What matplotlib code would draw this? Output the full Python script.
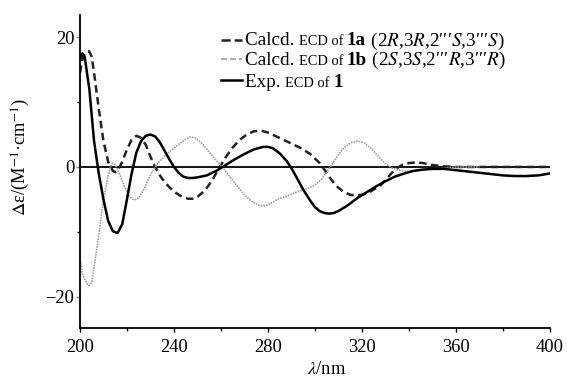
import matplotlib
matplotlib.use("Agg")
import matplotlib.pyplot as plt
from matplotlib.lines import Line2D
from matplotlib.offsetbox import AnchoredOffsetbox, DrawingArea, HPacker, TextArea
from matplotlib.ticker import MultipleLocator

plt.rcParams["font.family"] = ["Liberation Serif", "DejaVu Serif"]
plt.rcParams["mathtext.fontset"] = "stix"

# experimental ECD of 1
exp_nm = [200, 201, 202, 204, 206, 208, 210, 212, 214, 216, 218, 220, 222, 224,
          226, 228, 230, 232, 234, 236, 238, 240, 242, 244, 246, 248, 250, 254,
          258, 262, 266, 270, 274, 278, 280, 282, 285, 288, 290, 292, 295, 298,
          300, 302, 304, 306, 308, 310, 314, 318, 322, 326, 330, 334, 338, 342,
          346, 350, 355, 360, 365, 370, 375, 380, 385, 390, 395, 400]
exp_de = [16.5, 17.5, 17.0, 12.0, 4.0, -1.0, -5.0, -8.3, -9.9, -10.2, -8.8, -5.0,
          -1.0, 2.2, 4.0, 4.8, 5.0, 4.7, 3.8, 2.5, 1.2, 0.0, -0.9, -1.5, -1.7,
          -1.7, -1.6, -1.3, -0.6, 0.3, 1.2, 2.0, 2.7, 3.1, 3.1, 2.9, 2.1, 0.9,
          -0.2, -1.5, -3.5, -5.2, -6.2, -6.8, -7.1, -7.2, -7.1, -6.8, -5.9, -4.8,
          -3.9, -3.0, -2.2, -1.5, -1.0, -0.6, -0.4, -0.3, -0.3, -0.5, -0.7, -0.9,
          -1.1, -1.3, -1.4, -1.4, -1.3, -1.0]

# calculated ECD of 1a
a_nm = [200, 201, 202, 203, 204, 205, 206, 208, 210, 212, 214, 215, 216, 218,
        220, 222, 224, 226, 228, 230, 232, 234, 236, 238, 240, 243, 246, 248,
        250, 253, 256, 259, 262, 265, 268, 271, 274, 277, 280, 283, 286, 290,
        294, 298, 300, 302, 304, 306, 309, 312, 315, 318, 321, 324, 328, 331,
        334, 337, 340, 343, 346, 350, 355, 360, 370, 380, 390, 400]
a_de = [14.5, 16.5, 17.5, 17.8, 17.8, 17.0, 14.5, 9.0, 4.0, 0.8, -0.6, -0.8,
        -0.6, 0.8, 2.7, 4.2, 4.8, 4.5, 3.4, 1.6, 0.0, -1.3, -2.3, -3.1, -3.8,
        -4.5, -4.9, -4.9, -4.6, -3.7, -2.2, -0.3, 1.5, 3.0, 4.2, 5.0, 5.5, 5.6,
        5.3, 4.8, 4.3, 3.6, 2.9, 2.0, 1.3, 0.6, -0.4, -1.5, -2.9, -3.8, -4.3,
        -4.4, -4.2, -3.7, -2.8, -1.6, -0.4, 0.3, 0.6, 0.7, 0.6, 0.3, 0.1, 0.0,
        0.0, 0.0, 0.0, 0.0]

# calculated ECD of 1b
b_nm = [200, 201, 203, 204, 205, 206, 208, 210, 212, 213, 214, 215, 217, 219,
        221, 223, 225, 227, 229, 231, 233, 236, 239, 242, 245, 247, 249, 252,
        255, 258, 261, 264, 267, 270, 273, 276, 278, 280, 284, 288, 292, 296,
        300, 303, 306, 309, 312, 315, 318, 321, 324, 327, 330, 333, 336, 340,
        345, 350, 355, 360, 370]
b_de = [-14.0, -16.5, -18.0, -18.3, -17.8, -15.5, -10.5, -5.0, -1.3, 0.0, 0.6,
        0.4, -1.2, -3.0, -4.5, -5.1, -4.8, -3.6, -2.0, -0.6, 0.5, 1.7, 2.6, 3.5,
        4.3, 4.6, 4.5, 3.6, 2.3, 1.0, -0.2, -1.6, -3.0, -4.3, -5.3, -5.9, -6.0,
        -5.9, -5.0, -4.5, -3.9, -3.4, -2.8, -1.8, -0.3, 1.4, 2.8, 3.7, 4.0, 3.7,
        2.8, 1.6, 0.5, -0.2, -0.5, -0.7, -0.5, -0.3, -0.2, 0.0, 0.0]

# legend pieces: (lead word, compound, configuration)
leg_lead = ["Calcd. ", "Calcd. ", "Exp. "]
leg_cpd = ["1a", "1b", "1"]
leg_conf = [r" (2$\mathit{R}$,3$\mathit{R}$,2′′′$\mathit{S}$,3′′′$\mathit{S}$)",
            r" (2$\mathit{S}$,3$\mathit{S}$,2′′′$\mathit{R}$,3′′′$\mathit{R}$)",
            ""]

TICK = 13.3
BIG = 13.8
SMALL = 10.4

fig = plt.figure(figsize=(5.67, 3.79), dpi=100)
ax = fig.add_axes([0.141, 0.135, 0.829, 0.825])

ax.axhline(0, color="black", lw=1.3, zorder=1)
l_a, = ax.plot(a_nm, a_de, color="#222222", lw=1.8, dashes=(3, 1.8))
l_b, = ax.plot(b_nm, b_de, color="#a0a0a0", lw=1.2, ls=(0, (1, 0.6)))
l_e, = ax.plot(exp_nm, exp_de, color="black", lw=1.8)

ax.set_xlim(200, 400)
ax.set_ylim(-24.8, 23.4)
ax.xaxis.set_major_locator(MultipleLocator(40))
ax.xaxis.set_minor_locator(MultipleLocator(20))
ax.yaxis.set_major_locator(MultipleLocator(20))
ax.yaxis.set_minor_locator(MultipleLocator(10))
ax.spines["top"].set_visible(False)
ax.spines["right"].set_visible(False)
ax.spines["left"].set_linewidth(1.3)
ax.spines["bottom"].set_linewidth(1.3)
ax.tick_params(axis="both", labelsize=TICK, length=3, width=1)
ax.tick_params(axis="x", pad=5)
ax.tick_params(axis="y", which="major", color="#4a90d9", pad=1)
ax.tick_params(which="minor", length=2.5, width=1)

ax.set_xlabel(r"$\mathit{\lambda}$/nm", fontsize=TICK)
ax.xaxis.set_label_coords(0.525, -0.105)
ax.set_ylabel(r"$\mathit{\Delta}$ε/(M$^{-1}$·cm$^{-1}$)", fontsize=TICK)
ax.yaxis.set_label_coords(-0.102, 0.546)

# hand-built legend so the small "ECD of" can sit between larger words
row_y = [0.864, 0.812, 0.759]
for line, lead, cpd, conf, y in zip([l_a, l_b, l_e], leg_lead, leg_cpd, leg_conf, row_y):
    key = DrawingArea(17, 9, 0, 0)
    key_y = 5.5 if cpd == "1" else 4.2
    key.add_artist(Line2D([0, 15], [key_y, key_y], color=line.get_color(),
                          lw=line.get_linewidth(), ls=line.get_linestyle()))
    parts = [key,
             TextArea(lead, textprops=dict(size=BIG)),
             TextArea("ECD of ", textprops=dict(size=SMALL)),
             TextArea(cpd, textprops=dict(size=BIG, weight="bold"))]
    if conf:
        parts.append(TextArea(conf, textprops=dict(size=BIG)))
    row = HPacker(children=parts, align="baseline", pad=0, sep=0)
    box = AnchoredOffsetbox(loc="lower left", child=row, pad=0, borderpad=0,
                            frameon=False, bbox_to_anchor=(0.390, y),
                            bbox_transform=fig.transFigure)
    fig.add_artist(box)

fig.savefig("out.png", dpi=100)
